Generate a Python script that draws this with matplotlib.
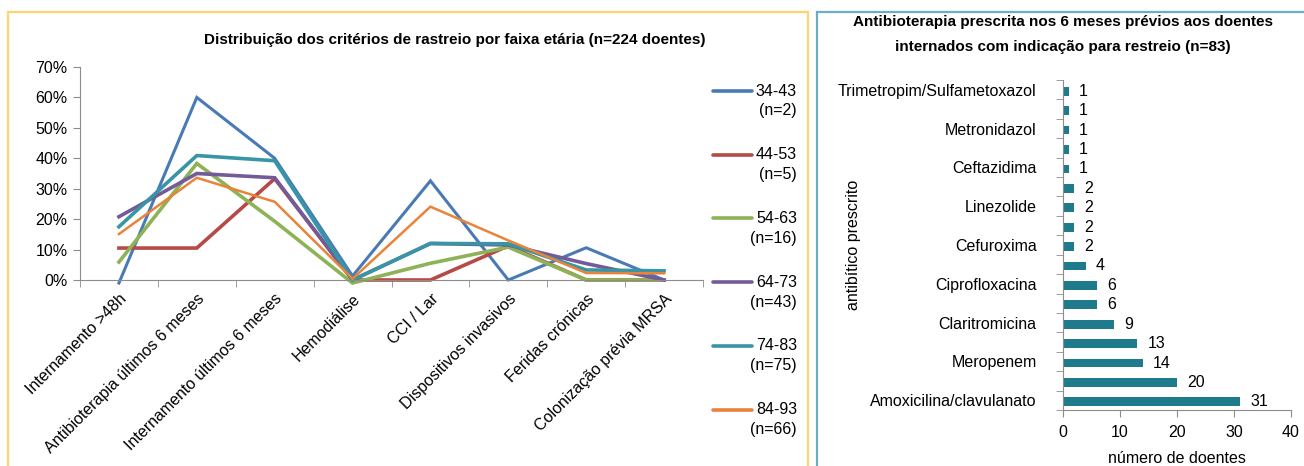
import numpy as np
import matplotlib.pyplot as plt
from matplotlib.lines import Line2D
from matplotlib.patches import Rectangle
from matplotlib.ticker import PercentFormatter

plt.rcParams['font.family'] = ['Liberation Sans', 'DejaVu Sans']
TITLE_FONT = ['Liberation Sans Narrow', 'Liberation Sans', 'DejaVu Sans']
FS = 11.5

# ---- left chart data (percent of patients per age group)
criterios = ['Internamento >48h', 'Antibioterapia últimos 6 meses',
             'Internamento últimos 6 meses', 'Hemodiálise', 'CCI / Lar',
             'Dispositivos invasivos', 'Feridas crónicas',
             'Colonização prévia MRSA']
faixas = ['34-43', '44-53', '54-63', '64-73', '74-83', '84-93']
n_faixa = [2, 5, 16, 43, 75, 66]
pct_34_43 = [-1.0, 60.0, 40.0, 1.3, 32.6, 0.0, 10.6, 0.0]
pct_44_53 = [10.5, 10.5, 33.3, 0.0, 0.0, 11.2, 0.0, 0.0]
pct_54_63 = [5.9, 38.3, 19.3, -1.0, 5.5, 10.8, 0.0, 0.0]
pct_64_73 = [20.8, 35.0, 33.6, 0.0, 12.0, 11.5, 5.4, 0.0]
pct_74_83 = [17.5, 40.9, 39.2, 0.0, 12.0, 11.9, 3.3, 3.0]
pct_84_93 = [15.1, 33.6, 25.7, 0.4, 24.1, 13.0, 2.3, 2.2]
series = [pct_34_43, pct_44_53, pct_54_63, pct_64_73, pct_74_83, pct_84_93]
cores = ['#4a7ab5', '#b54a46', '#8db356', '#735a98', '#3795a5', '#e8843a']
larguras = [2.2, 2.6, 2.6, 2.6, 2.6, 1.8]

# ---- right chart data (bottom to top)
antibioticos = ['Amoxicilina/clavulanato', '', 'Meropenem', '', 'Claritromicina',
                '', 'Ciprofloxacina', '', 'Cefuroxima', '', 'Linezolide', '',
                'Ceftazidima', '', 'Metronidazol', '', 'Trimetropim/Sulfametoxazol']
doentes = [31, 20, 14, 13, 9, 6, 6, 4, 2, 2, 2, 2, 1, 1, 1, 1, 1]

W, H = 1304, 466
fig = plt.figure(figsize=(W / 100, H / 100), dpi=100)

# panel frames
fig.add_artist(Rectangle((8 / W, -0.05), 800 / W, 1.05 - 12 / H, transform=fig.transFigure,
                         fill=False, edgecolor='#ffd36e', linewidth=1.6))
fig.add_artist(Rectangle((817 / W, -0.05), 0.5, 1.05 - 12 / H, transform=fig.transFigure,
                         fill=False, edgecolor='#6aaec6', linewidth=1.6))

axis_grey = '#8c8c8c'

# ---------------- left chart
ax = fig.add_axes([80 / W, 1 - 280 / H, 623 / W, 213 / H])
x = np.arange(len(criterios))
for vals, c, lw in zip(series, cores, larguras):
    ax.plot(x, vals, color=c, linewidth=lw, clip_on=False, solid_joinstyle='miter')
ax.set_xlim(-0.5, len(criterios) - 0.5)
ax.set_ylim(0, 70)
ax.yaxis.set_major_locator(plt.MultipleLocator(10))
ax.yaxis.set_major_formatter(PercentFormatter(decimals=0))
ax.set_xticks(x)
ax.set_xticklabels(criterios, rotation=45, ha='right', rotation_mode='anchor', fontsize=FS)
ax.set_xticks(np.arange(-0.5, len(criterios)), minor=True)
ax.tick_params(axis='x', which='major', length=0, pad=8)
ax.tick_params(axis='x', which='minor', length=5, color=axis_grey)
ax.tick_params(axis='y', length=5, color=axis_grey, labelsize=FS, pad=4)
for s in ['top', 'right']:
    ax.spines[s].set_visible(False)
for s in ['left', 'bottom']:
    ax.spines[s].set_color(axis_grey)
ax.spines['left'].set_bounds(0, 70)
fig.text(455 / W, 1 - 40 / H,
         'Distribuição dos critérios de rastreio por faixa etária (n=224 doentes)',
         ha='center', va='center', fontsize=11, fontweight='bold', family=TITLE_FONT)

# legend drawn by hand (label pairs right aligned)
for i, (lab, n, c) in enumerate(zip(faixas, n_faixa, cores)):
    yy = 1 - (91 + i * 63.7) / H
    fig.add_artist(Line2D([713 / W, 752 / W], [yy, yy], color=c, linewidth=2.6,
                          transform=fig.transFigure, solid_capstyle='round'))
    fig.text(797 / W, yy, lab, ha='right', va='center', fontsize=FS)
    fig.text(797 / W, yy - 20 / H, f'(n={n})', ha='right', va='center', fontsize=FS)

# ---------------- right chart
bx = fig.add_axes([1063 / W, 1 - 410 / H, 228 / W, 330 / H])
y = np.arange(len(doentes))
bx.barh(y - 0.08, doentes, height=0.45, color='#1f7b8c')
for yi, v in zip(y, doentes):
    bx.text(v + 1.8, yi - 0.08, str(v), va='center', ha='left', fontsize=FS)
bx.set_xlim(0, 40)
bx.set_ylim(-0.5, len(doentes) - 0.5)
bx.set_xticks([0, 10, 20, 30, 40])
bx.set_yticks(y)
bx.set_yticklabels(antibioticos, fontsize=FS)
bx.set_yticks(np.arange(-0.5, len(doentes)), minor=True)
bx.tick_params(axis='y', which='major', length=0, pad=19)
bx.tick_params(axis='y', which='minor', length=5, color=axis_grey)
bx.tick_params(axis='x', length=5, color=axis_grey, labelsize=FS, pad=6)
for s in ['top', 'right']:
    bx.spines[s].set_visible(False)
for s in ['left', 'bottom']:
    bx.spines[s].set_color(axis_grey)
bx.set_xlabel('número de doentes', fontsize=FS, labelpad=8)
fig.text(853 / W, 1 - 245 / H, 'antibítico prescrito', rotation=90,
         ha='center', va='center', fontsize=FS)
fig.text(1063 / W, 1 - 22 / H, 'Antibioterapia prescrita nos 6 meses prévios aos doentes',
         ha='center', va='center', fontsize=11, fontweight='bold', family=TITLE_FONT)
fig.text(1063 / W, 1 - 47 / H, 'internados com indicação para restreio (n=83)',
         ha='center', va='center', fontsize=11, fontweight='bold', family=TITLE_FONT)

fig.savefig('out.png', dpi=100)
